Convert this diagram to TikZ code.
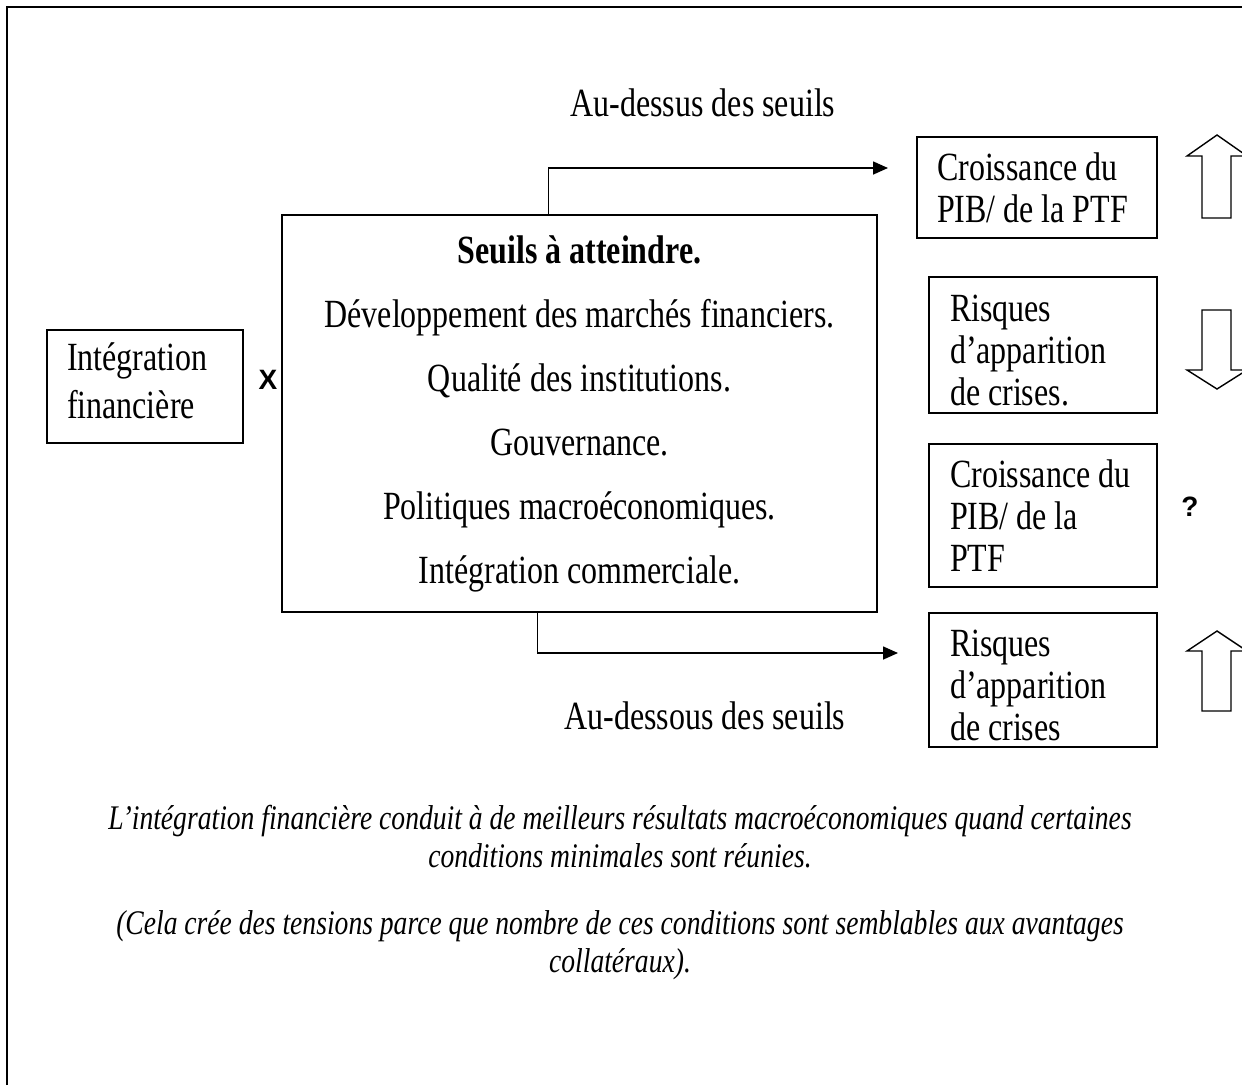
\documentclass[tikz,border=0pt]{standalone}
\usepackage{fontspec}
\setmainfont{Liberation Serif}[FakeStretch=0.8]
\newfontfamily\sansgras{Liberation Sans}[BoldFont={Liberation Sans Bold}]
\usetikzlibrary{arrows.meta}

\begin{document}
\begin{tikzpicture}[x=1pt,y=-1pt,
  texte/.style={font=\fontsize{40}{42}\selectfont},
  boite/.style={texte,draw,line width=1.6pt,inner xsep=21pt,inner ysep=0pt,align=flush left},
  fleche/.style={line width=1.6pt,-{Triangle[length=15pt,width=13pt]}},
  grossefleche/.style={draw,line width=1.4pt,line join=miter},
  signe/.style={font={\fontsize{28}{28}\selectfont\sansgras\bfseries}},
  legende/.style={align=center,font={\fontsize{34.5}{38}\selectfont\itshape}}]
\useasboundingbox (0,0) rectangle (1242,1085);
\draw[line width=2pt] (7,1085) -- (7,7) -- (1242,7);

\node[boite,inner xsep=20pt,minimum width=196pt,minimum height=113pt,text width=156pt,font=\fontsize{40}{48}\selectfont] (integration) at (145,386.5) {Intégration\\financière\rule[-11pt]{0pt}{0pt}};
\node[boite,align=center,inner xsep=0pt,minimum width=595pt,minimum height=397pt,font=\fontsize{40}{64}\selectfont] (seuils) at (579.5,413.5)
  {\textbf{Seuils à atteindre.}\\Développement des marchés financiers.\\Qualité des institutions.\\Gouvernance.\\Politiques macroéconomiques.\\Intégration commerciale.};
\node[signe] (fois) at (268,380) {X};

\node[boite,inner xsep=20pt,minimum width=240pt,minimum height=101pt,text width=200pt] (croissance1) at (1037,187.5) {Croissance du\\PIB/ de la PTF};
\node[boite,minimum width=228pt,minimum height=136pt,text width=186pt] (risques1) at (1043,345) {\rule{0pt}{38pt}Risques\\d’apparition\\de crises.};
\node[boite,minimum width=228pt,minimum height=143pt,text width=186pt] (croissance2) at (1043,515.5) {Croissance du\\PIB/ de la\\PTF};
\node[boite,minimum width=228pt,minimum height=134pt,text width=186pt] (risques2) at (1043,680) {\rule{0pt}{38pt}Risques\\d’apparition\\de crises};
\node[signe] (doute) at (1190,507) {?};

\coordinate (dessusfin) at (888,168);
\coordinate (dessousfin) at (898,653);
\draw[fleche] ([xshift=-31pt]seuils.north) |- (dessusfin);
\draw[fleche] ([xshift=-42pt]seuils.south) |- (dessousfin);
\node[texte] (dessus) at (703,103) {Au-dessus des seuils};
\node[texte] (dessous) at (705,716) {Au-dessous des seuils};

\draw[grossefleche] (1202,218) -- (1202,156) -- (1187,156) -- (1217,135) -- (1247,156) -- (1231,156) -- (1231,218) -- cycle;
\draw[grossefleche] (1202,310) -- (1231,310) -- (1231,370) -- (1247,370) -- (1217,389) -- (1187,370) -- (1202,370) -- cycle;
\draw[grossefleche] (1202,711) -- (1202,651) -- (1187,651) -- (1217,631) -- (1247,651) -- (1231,651) -- (1231,711) -- cycle;

\node[legende] (conclusion) at (620,836.5) {L’intégration financière conduit à de meilleurs résultats macroéconomiques quand certaines\\conditions minimales sont réunies.};
\node[legende] (remarque) at (620,945) {(Cela crée des tensions parce que nombre de ces conditions sont semblables aux avantages\\collatéraux).};
\end{tikzpicture}
\end{document}
